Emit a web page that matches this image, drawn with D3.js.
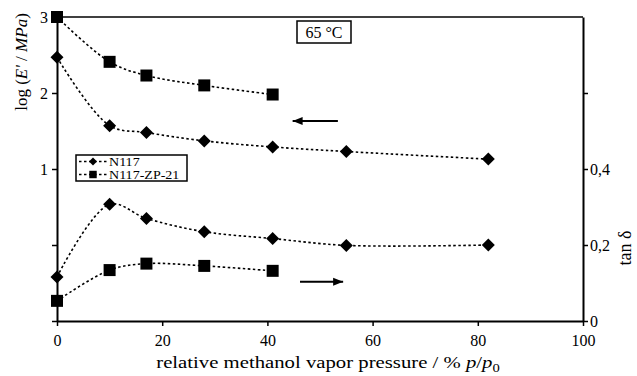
<!DOCTYPE html>
<html>
<head>
<meta charset="utf-8">
<script src="https://cdn.jsdelivr.net/npm/d3@7"></script>
<style>
  body { margin: 0; background: #fff; }
  svg { font-family: "Liberation Serif", "Times New Roman", serif; }
</style>
</head>
<body>
<svg id="chart" width="637" height="376"></svg>
<script>
// values
const pressureN117 = [0, 10, 17, 28, 41, 55, 82];
const logE_N117 = [2.47, 1.57, 1.48, 1.37, 1.29, 1.23, 1.13];
const tanD_N117 = [0.116, 0.307, 0.270, 0.235, 0.217, 0.199, 0.200];

const pressureZP = [0, 10, 17, 28, 41];
const logE_ZP = [3.0, 2.41, 2.23, 2.10, 1.98];
const tanD_ZP = [0.053, 0.134, 0.151, 0.145, 0.132];

const xTicks = [0, 20, 40, 60, 80, 100];
const leftTicks = [-1, 0, 1, 2, 3];
const rightTicks = [0, 0.2, 0.4, 0.6];

const width = 637, height = 376;
const margin = { left: 57, right: 54, top: 17, bottom: 55 };
const serif = '"Liberation Serif", "Times New Roman", serif';

const svg = d3.select('#chart');

const x = d3.scaleLinear().domain([0, 100]).range([margin.left, width - margin.right]);
const yL = d3.scaleLinear().domain([-1, 3]).range([height - margin.bottom, margin.top]);
const yR = d3.scaleLinear().domain([0, 0.8]).range([height - margin.bottom, margin.top]);

// top frame line
svg.append('line')
    .attr('x1', x(0)).attr('x2', x(100))
    .attr('y1', yL(3)).attr('y2', yL(3))
    .attr('stroke', '#000').attr('stroke-width', 1.5);

const styleAxis = g => {
    g.attr('font-family', serif);
    g.select('.domain').attr('stroke-width', 2);
    g.selectAll('.tick line').attr('stroke-width', 1.5);
    g.selectAll('text').attr('font-size', 16).attr('fill', '#000');
};

// axes
svg.append('g')
    .attr('transform', `translate(0,${yL(-1)})`)
    .call(d3.axisBottom(x).tickValues(xTicks).tickSize(5).tickSizeOuter(0).tickPadding(9))
    .call(styleAxis);

svg.append('g')
    .attr('transform', `translate(${x(0)},0)`)
    .call(d3.axisLeft(yL).tickValues(leftTicks).tickSize(5).tickSizeOuter(0).tickPadding(4)
        .tickFormat(d => d >= 1 ? d : ''))
    .call(styleAxis);

svg.append('g')
    .attr('transform', `translate(${x(100)},0)`)
    .call(d3.axisRight(yR).tickValues(rightTicks).tickSize(5).tickSizeOuter(0).tickPadding(2)
        .tickFormat(d => d === 0 ? '0' : (d < 0.5 ? d.toFixed(1).replace('.', ',') : '')))
    .call(styleAxis);

// series
const curve = d3.curveCatmullRom.alpha(0.5);

const drawSeries = (xs, ys, yScale, shape) => {
    const pts = xs.map((v, i) => [x(v), yScale(ys[i])]);
    svg.append('path')
        .attr('d', d3.line().curve(curve)(pts))
        .attr('fill', 'none')
        .attr('stroke', '#000')
        .attr('stroke-width', 1.6)
        .attr('stroke-dasharray', '2.5,2.5');
    svg.append('g').selectAll('path')
        .data(pts)
        .enter().append('path')
        .attr('transform', d => `translate(${d[0]},${d[1]})`)
        .attr('d', shape)
        .attr('fill', '#000');
};

const diamond = 'M0,-6.5L6.5,0L0,6.5L-6.5,0Z';
const square = 'M-6,-6H6V6H-6Z';

drawSeries(pressureN117, logE_N117, yL, diamond);
drawSeries(pressureZP, logE_ZP, yL, square);
drawSeries(pressureN117, tanD_N117, yR, diamond);
drawSeries(pressureZP, tanD_ZP, yR, square);

// arrows
const arrow = (x1, x2, y, dir) => {
    svg.append('line')
        .attr('x1', x1).attr('x2', x2).attr('y1', y).attr('y2', y)
        .attr('stroke', '#000').attr('stroke-width', 2);
    const tip = dir < 0 ? x1 : x2;
    svg.append('path')
        .attr('d', `M${tip},${y}L${tip - dir * 10},${y - 4}L${tip - dir * 10},${y + 4}Z`)
        .attr('fill', '#000');
};
arrow(x(44.8), x(53.4), yL(1.63), -1);
arrow(x(46.2), x(54.4), yR(0.103), 1);

// temperature box
svg.append('rect')
    .attr('x', 297).attr('y', 21).attr('width', 54).attr('height', 22)
    .attr('fill', '#fff').attr('stroke', '#000').attr('stroke-width', 1.5);
svg.append('text')
    .attr('x', 324).attr('y', 38).attr('text-anchor', 'middle')
    .attr('font-size', 16).text('65 °C');

// legend
const legend = svg.append('g');
legend.append('rect')
    .attr('x', 76).attr('y', 155).attr('width', 111).attr('height', 26)
    .attr('fill', '#fff').attr('stroke', '#000').attr('stroke-width', 1.5);
const legendItems = [['N117', diamond, 161.5], ['N117-ZP-21', square, 174.5]];
legendItems.forEach(([name, shape, ly]) => {
    legend.append('line')
        .attr('x1', 79).attr('x2', 109).attr('y1', ly).attr('y2', ly)
        .attr('stroke', '#000').attr('stroke-width', 1.6).attr('stroke-dasharray', '2.5,2.5');
    legend.append('path')
        .attr('transform', `translate(93,${ly}) scale(0.62)`)
        .attr('d', shape).attr('fill', '#000');
    legend.append('text')
        .attr('transform', `translate(109,${ly + 4.5}) scale(1.08,1)`)
        .attr('font-size', 13).text(name);
});

// axis titles
const xTitle = svg.append('text')
    .attr('transform', 'translate(328,368) scale(1.22,1)')
    .attr('text-anchor', 'middle').attr('font-size', 17);
xTitle.append('tspan').text('relative methanol vapor pressure / % ');
xTitle.append('tspan').attr('font-style', 'italic').text('p');
xTitle.append('tspan').text('/');
xTitle.append('tspan').attr('font-style', 'italic').text('p');
xTitle.append('tspan').attr('font-size', 12).attr('dy', 4).text('0');

const yTitle = svg.append('text')
    .attr('transform', 'translate(27,62) rotate(-90)')
    .attr('text-anchor', 'middle').attr('font-size', 17);
yTitle.append('tspan').text('log (');
yTitle.append('tspan').attr('font-style', 'italic').text("E'");
yTitle.append('tspan').text(' / ');
yTitle.append('tspan').attr('font-style', 'italic').text('MPa');
yTitle.append('tspan').text(')');

svg.append('text')
    .attr('transform', 'translate(631,248) rotate(-90)')
    .attr('text-anchor', 'middle').attr('font-size', 18)
    .text('tan δ');
</script>
</body>
</html>
